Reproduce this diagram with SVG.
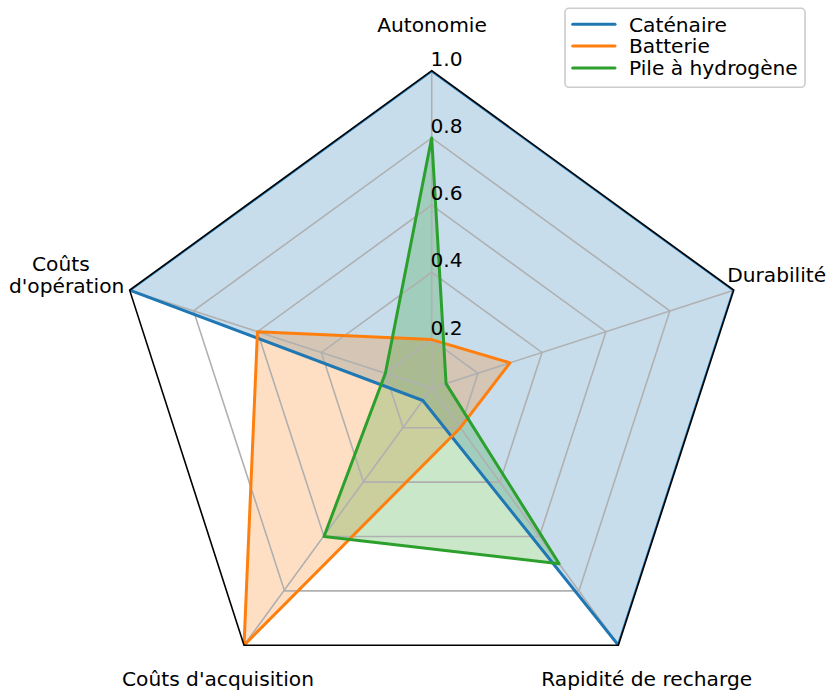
<svg xmlns="http://www.w3.org/2000/svg" width="827" height="693" viewBox="0 0 827 693">
<style>
  text { font-family: "DejaVu Sans", "Liberation Sans", sans-serif; font-size: 20.2px; fill: #000; }
  .grid { fill: none; stroke: #b0b0b0; stroke-width: 1.6; }
  .spine { fill: none; stroke: #000; stroke-width: 1.6; stroke-linejoin: miter; }
  .ser { fill: none; stroke-width: 3; stroke-linejoin: round; stroke-linecap: round; }
  .fillp { stroke: none; fill-opacity: 0.25; }
  .blue { stroke: #1f77b4; }
  .orange { stroke: #ff7f0e; }
  .green { stroke: #2ca02c; }
</style>
<defs>
  <clipPath id="frame">
    <path d="M431.7,70.7 L733.76,290.16 L618.38,645.24 L244.02,645.24 L129.64,290.16 Z"/>
  </clipPath>
</defs>
<rect width="827" height="693" fill="#ffffff"/>

<g id="fills" clip-path="url(#frame)">
  <path class="fillp" fill="#1f77b4" d="M431.7,70.7 L733.76,290.16 L618.38,645.24 L422.82,400.52 L129.64,290.16 Z"/>
  <path class="fillp" fill="#ff7f0e" d="M431.7,339.6 L509.97,362.87 L460.33,427.7 L244.02,645.24 L257.47,331.69 Z"/>
  <path class="fillp" fill="#2ca02c" d="M431.7,137.9 L446.06,383.63 L559.13,563.7 L324.02,536.51 L385.38,373.25 Z"/>
</g>

<g id="grid">
  <path class="grid" d="M431.7,339.6 L478.02,373.25 L460.33,427.7 L403.07,427.7 L385.38,373.25 Z"/>
  <path class="grid" d="M431.7,272.3 L542.02,352.45 L499.88,482.15 L363.52,482.15 L321.38,352.45 Z"/>
  <path class="grid" d="M431.7,205.1 L605.93,331.69 L539.38,536.51 L324.02,536.51 L257.47,331.69 Z"/>
  <path class="grid" d="M431.7,137.9 L669.85,310.92 L578.88,590.88 L284.52,590.88 L193.55,310.92 Z"/>
  <path class="grid" d="M431.7,388.3 L431.7,70.7 M431.7,388.3 L733.76,290.16 M431.7,388.3 L618.38,645.24 M431.7,388.3 L244.02,645.24 M431.7,388.3 L129.64,290.16"/>
</g>

<g id="connectors" clip-path="url(#frame)">
  <path id="line-catenaire" class="ser blue" d="M431.7,70.7 L733.76,290.16 L618.38,645.24 L422.82,400.52 L129.64,290.16 Z"/>
  <path id="line-batterie" class="ser orange" d="M431.7,339.6 L509.97,362.87 L460.33,427.7 L244.02,645.24 L257.47,331.69 Z"/>
  <path id="line-pile" class="ser green" d="M431.7,137.9 L446.06,383.63 L559.13,563.7 L324.02,536.51 L385.38,373.25 Z"/>
</g>

<g id="spine">
  <path class="spine" d="M431.7,70.7 L733.76,290.16 L618.38,645.24 L244.02,645.24 L129.64,290.16 Z"/>
</g>

<g id="radial-ticks">
  <text x="430.5" y="65.5">1.0</text>
  <text x="430.5" y="132.7">0.8</text>
  <text x="430.5" y="200">0.6</text>
  <text x="430.5" y="267.2">0.4</text>
  <text x="430.5" y="334.5">0.2</text>
</g>

<g id="axis-autonomie"><text x="432" y="32" text-anchor="middle">Autonomie</text></g>
<g id="axis-durabilite"><text x="727.2" y="281.7">Durabilité</text></g>
<g id="axis-rapidite"><text x="646.7" y="686" text-anchor="middle">Rapidité de recharge</text></g>
<g id="axis-acquisition"><text x="218" y="686" text-anchor="middle">Coûts d'acquisition</text></g>
<g id="axis-operation">
  <text x="32" y="271">Coûts</text>
  <text x="9" y="293.3">d'opération</text>
</g>

<g id="legend">
  <rect x="565" y="8.3" width="240" height="79" rx="4" ry="4" fill="#ffffff" fill-opacity="0.8" stroke="#cccccc" stroke-width="1.6"/>
  <line x1="572.7" y1="24.3" x2="615" y2="24.3" class="ser blue" stroke-linecap="butt"/>
  <line x1="572.7" y1="45.9" x2="615" y2="45.9" class="ser orange" stroke-linecap="butt"/>
  <line x1="572.7" y1="67.9" x2="615" y2="67.9" class="ser green" stroke-linecap="butt"/>
  <text x="629" y="31.5">Caténaire</text>
  <text x="629" y="53.3">Batterie</text>
  <text x="629" y="75.2">Pile à hydrogène</text>
</g>
</svg>
